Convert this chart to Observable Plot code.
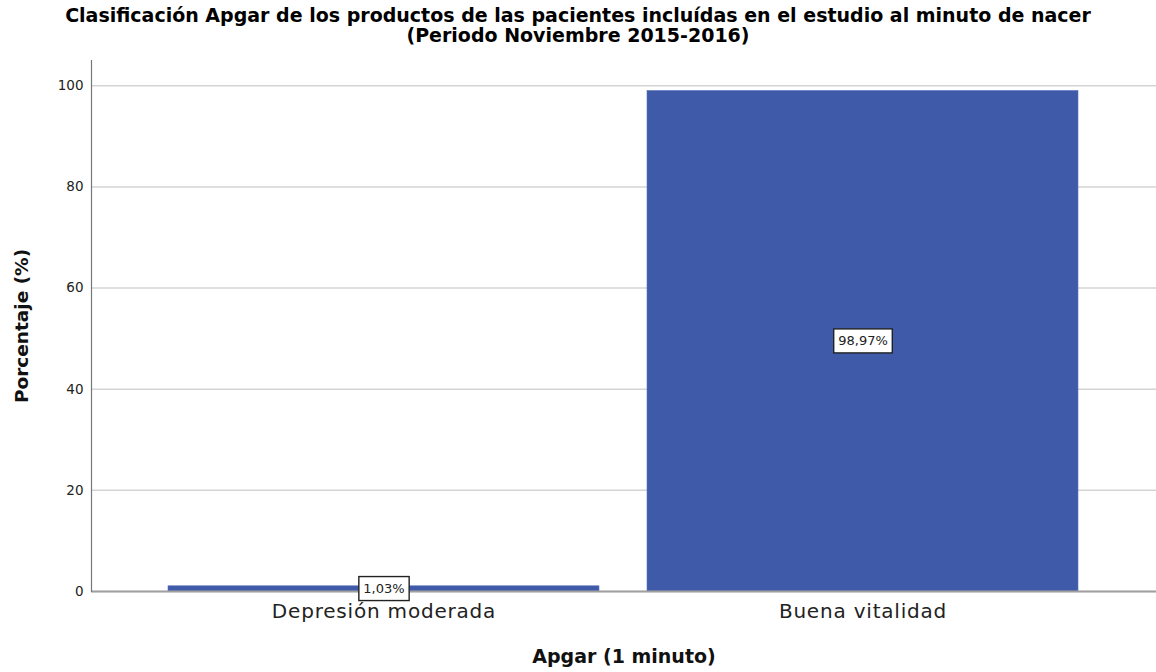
<!DOCTYPE html>
<html>
<head>
<meta charset="utf-8">
<script src="https://cdn.jsdelivr.net/npm/d3@7"></script>
<script src="https://cdn.jsdelivr.net/npm/@observablehq/plot@0.6"></script>
<style>
  body { margin: 0; background: #fff; }
  #title { height: 55px; box-sizing: border-box; padding-top: 5px; text-align: center;
    font-family: "DejaVu Sans", sans-serif;
    font-weight: bold; font-size: 19px; line-height: 20px; color: #000; }
  #chart svg { display: block; }
</style>
</head>
<body>
<div id="title">Clasificación Apgar de los productos de las pacientes incluídas en el estudio al minuto de nacer<br>(Periodo Noviembre 2015-2016)</div>
<div id="chart"></div>
<script>
const categories = ["Depresión moderada", "Buena vitalidad"];
const percentages = [1.03, 98.97];
const valueLabels = ["1,03%", "98,97%"];
const yTicks = [0, 20, 40, 60, 80, 100];
const xTitle = "Apgar (1 minuto)";
const yTitle = "Porcentaje (%)";

const data = categories.map((c, i) => ({cat: c, pct: percentages[i], label: valueLabels[i]}));

const plot = Plot.plot({
  width: 1156,
  height: 617,
  marginLeft: 91,
  marginRight: 0,
  marginTop: 5,
  marginBottom: 81,
  style: {fontFamily: "DejaVu Sans, sans-serif", background: "#fff", color: "#222", overflow: "visible"},
  x: {domain: categories, paddingInner: 0.1, paddingOuter: 0.16, label: null},
  y: {domain: [0, 105], label: null},
  marks: [
    Plot.gridY(yTicks, {stroke: "#d4d4d4", strokeOpacity: 1, strokeWidth: 1.5}),
    Plot.barY(data, {x: "cat", y: "pct", fill: "#3e5aa8", stroke: "#5a73b8", strokeWidth: 0.6}),
    Plot.ruleY([0], {stroke: "#a0a0a0", strokeWidth: 2}),
    Plot.frame({anchor: "left", stroke: "#777", strokeWidth: 1.2}),
    Plot.axisY(yTicks, {tickSize: 0, tickPadding: 8, fontSize: 13.5, label: null, fill: "#222"}),
    Plot.axisX({tickSize: 0, tickPadding: 12, fontSize: 20, label: null, fill: "#222", className: "xticks"}),
    Plot.text(data, {x: "cat", y: d => d.pct / 2, text: "label", fontSize: 13, fill: "#222", className: "vlabel"}),
    Plot.text([xTitle], {frameAnchor: "bottom", dy: 65, textAnchor: "middle", lineAnchor: "middle",
      fontSize: 19, fontWeight: "bold", fill: "#111"}),
    Plot.text([yTitle], {frameAnchor: "left", dx: -69, rotate: -90, textAnchor: "middle", lineAnchor: "middle",
      fontSize: 18.5, fontWeight: "bold", fill: "#111"})
  ]
});
document.getElementById("chart").appendChild(plot);

d3.select(plot).selectAll(".xticks text").style("letter-spacing", "0.8px");

// white boxes behind value labels
d3.select(plot).selectAll(".vlabel text").each(function() {
  const bb = this.getBBox();
  d3.select(this.parentNode).insert("rect", () => this)
    .attr("transform", this.getAttribute("transform"))
    .attr("x", bb.x - 4.5).attr("y", bb.y - 4.5)
    .attr("width", bb.width + 9).attr("height", bb.height + 9)
    .attr("fill", "#fff").attr("stroke", "#222").attr("stroke-width", 1.4);
});
</script>
</body>
</html>
